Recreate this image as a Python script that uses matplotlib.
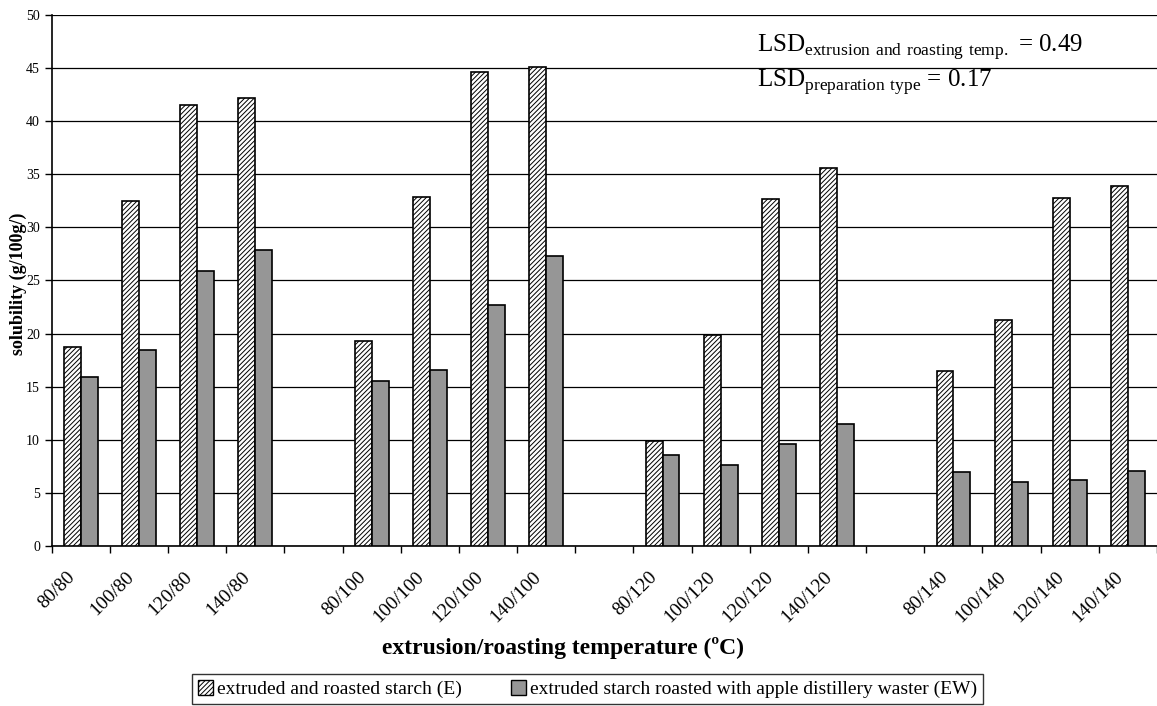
import numpy as np
import matplotlib.pyplot as plt
from matplotlib.patches import Patch
from matplotlib.transforms import ScaledTranslation

plt.rcParams['font.family'] = ['Liberation Serif', 'DejaVu Serif']
plt.rcParams['mathtext.fontset'] = 'custom'
plt.rcParams['mathtext.rm'] = 'Liberation Serif'
plt.rcParams['hatch.linewidth'] = 0.7
plt.rcParams['hatch.color'] = '#333333'

# extrusion/roasting temperature combinations, grouped by roasting temperature
categories = ['80/80', '100/80', '120/80', '140/80',
              '80/100', '100/100', '120/100', '140/100',
              '80/120', '100/120', '120/120', '140/120',
              '80/140', '100/140', '120/140', '140/140']

# solubility (g/100g)
starch_E = [18.7, 32.5, 41.5, 42.2,
            19.3, 32.9, 44.6, 45.1,
            9.9, 19.9, 32.7, 35.6,
            16.5, 21.3, 32.8, 33.9]
starch_EW = [15.9, 18.5, 25.9, 27.9,
             15.5, 16.6, 22.7, 27.3,
             8.6, 7.6, 9.6, 11.5,
             7.0, 6.0, 6.2, 7.1]

# one empty slot between the groups of four
pos = np.array([i + i // 4 for i in range(len(categories))])
w = 0.29
HATCH = '/' * 7

fig = plt.figure(figsize=(11.57, 7.06), dpi=100)
ax = fig.add_axes([0.0447, 0.2266, 0.9553, 0.7522])

ax.bar(pos - w / 2, starch_E, w, color='white', edgecolor='black',
       hatch=HATCH, linewidth=1.2, zorder=3)
ax.bar(pos + w / 2, starch_EW, w, color='#969696', edgecolor='black',
       linewidth=1.2, zorder=3)

ax.set_xlim(-0.5, pos[-1] + 0.5)
ax.set_ylim(0, 50)
ax.set_yticks(np.arange(0, 51, 5))
ax.yaxis.grid(True, color='black', linewidth=0.9, zorder=0)
ax.tick_params(axis='y', labelsize=10, length=5, width=1, direction='out')

ax.set_xticks(pos)
ax.set_xticklabels(categories, rotation=45, ha='right', rotation_mode='anchor',
                   fontsize=14)
ax.set_xticks(np.arange(-0.5, pos[-1] + 1, 1), minor=True)
ax.tick_params(axis='x', which='major', length=0, pad=16)
ax.tick_params(axis='x', which='minor', length=5, width=1, direction='out')
for lab in ax.get_xticklabels():
    lab.set_transform(lab.get_transform() +
                      ScaledTranslation(-0.14, 0, fig.dpi_scale_trans))

for s in ['top', 'right']:
    ax.spines[s].set_visible(False)
ax.spines['left'].set_linewidth(1.2)
ax.spines['bottom'].set_linewidth(1.2)

fig.text(0.0156, 0.598, 'solubility (g/100g/)', rotation=90, ha='center',
         va='center', fontsize=13, fontweight='bold')
fig.text(0.487, 0.082, 'extrusion/roasting temperature (ºC)', ha='center',
         va='center', fontsize=17, fontweight='bold')

fig.text(0.654, 0.926, r'LSD$_{\rm extrusion\ and\ roasting\ temp.}$ = 0.49',
         fontsize=18, va='baseline')
fig.text(0.654, 0.877, r'LSD$_{\rm preparation\ type}$ = 0.17',
         fontsize=18, va='baseline')

handles = [Patch(facecolor='white', edgecolor='black', hatch=HATCH,
                 label='extruded and roasted starch (E)'),
           Patch(facecolor='#969696', edgecolor='black',
                 label='extruded starch roasted with apple distillery waster (EW)')]
leg = fig.legend(handles=handles, ncol=2, loc='upper left',
                 bbox_to_anchor=(0.166, 1 - 674 / 706),
                 bbox_transform=fig.transFigure,
                 fontsize=14, frameon=True, fancybox=False, edgecolor='black',
                 handlelength=0.8, handleheight=0.8, handletextpad=0.2,
                 columnspacing=2.5, borderpad=0.3, borderaxespad=0)
leg.get_frame().set_linewidth(1.0)

fig.savefig('out.png', dpi=100)
